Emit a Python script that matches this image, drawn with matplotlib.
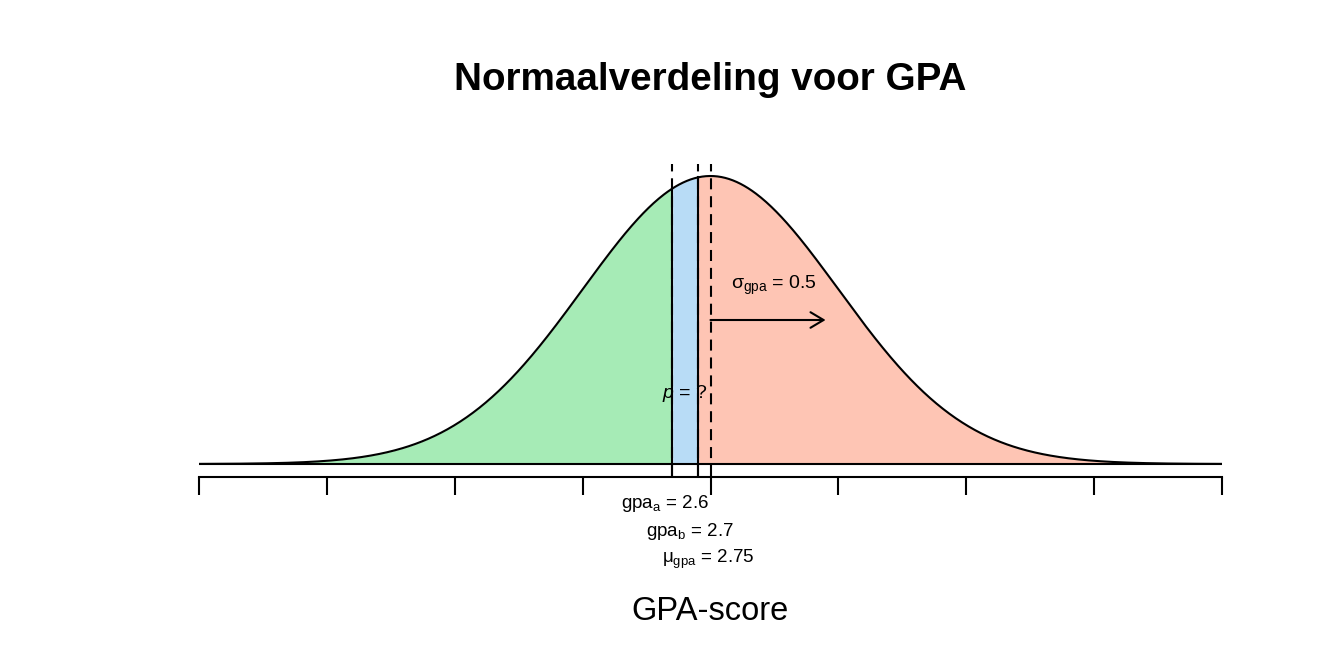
import numpy as np
import matplotlib
matplotlib.use("Agg")
import matplotlib.pyplot as plt

plt.rcParams["font.family"] = ["Liberation Sans", "DejaVu Sans"]
plt.rcParams["mathtext.fontset"] = "custom"
plt.rcParams["mathtext.rm"] = "Liberation Sans"
plt.rcParams["mathtext.it"] = "Liberation Sans:italic"
plt.rcParams["mathtext.bf"] = "Liberation Sans:bold"

# values
mu = 2.75
sigma = 0.5
gpa_a = 2.6
gpa_b = 2.7
tick_positions = [0.75, 1.25, 1.75, 2.25, 2.75, 3.25, 3.75, 4.25, 4.75]
title = "Normaalverdeling voor GPA"
xlabel = "GPA-score"

col_low = "#A6EBB6"
col_mid = "#B8DCF6"
col_high = "#FEC5B4"

x = np.linspace(tick_positions[0], tick_positions[-1], 800)
dens = np.exp(-0.5 * ((x - mu) / sigma) ** 2) / (sigma * np.sqrt(2 * np.pi))
peak = 1 / (sigma * np.sqrt(2 * np.pi))

fig = plt.figure(figsize=(13.44, 6.72), dpi=100)
ax = fig.add_axes([199 / 1344, 172 / 672, 1023 / 1344, 350 / 672])
px = 288 / peak  # pixels per density unit
ax.set_xlim(tick_positions[0], tick_positions[-1])
ax.set_ylim(-36 / px, 314 / px)

# shaded areas
ax.fill_between(x, 0, dens, where=x <= gpa_a, color=col_low, lw=0)
ax.fill_between(x, 0, dens, where=(x >= gpa_a) & (x <= gpa_b), color=col_mid, lw=0)
ax.fill_between(x, 0, dens, where=x >= gpa_b, color=col_high, lw=0)

ax.plot(x, dens, color="black", lw=1.5)
ax.plot([x[0], x[-1]], [0, 0], color="black", lw=1.5)

usr_bot = -0.04 * peak
usr_top = 1.04 * peak
for v in (gpa_a, gpa_b, mu):
    ax.plot([v, v], [usr_bot, usr_top], color="black", lw=1.5,
            dashes=(5.3, 3.3))
for v in (gpa_a, gpa_b):
    d = np.exp(-0.5 * ((v - mu) / sigma) ** 2) / (sigma * np.sqrt(2 * np.pi))
    ax.plot([v, v], [usr_bot, d], color="black", lw=1.5)

# arrow for sigma
ax.annotate("", xy=(mu + 0.9 * sigma, peak / 2), xytext=(mu, peak / 2),
            arrowprops=dict(arrowstyle="->,head_length=0.47,head_width=0.28",
                            lw=1.5, color="black", mutation_scale=20,
                            shrinkA=0, shrinkB=0))
ax.text(mu + sigma / 2, 0.485, r"σ$_{\mathrm{gpa}}$ = 0.5", ha="center",
        va="baseline", fontsize=14)
ax.text((gpa_a + gpa_b) / 2, 0.183, r"$\mathit{p}$ = ?", ha="center",
        va="baseline", fontsize=14)

# labels under the axis
lab_size = 13.5
ax.text(gpa_a - 0.03, -44 / px, r"gpa$_{\mathrm{a}}$ = 2.6", ha="center",
        va="baseline", fontsize=lab_size)
ax.text(gpa_b - 0.03, -72 / px, r"gpa$_{\mathrm{b}}$ = 2.7", ha="center",
        va="baseline", fontsize=lab_size)
ax.text(mu - 0.01, -99 / px, r"μ$_{\mathrm{gpa}}$ = 2.75", ha="center",
        va="baseline", fontsize=lab_size)

# axis
for s in ("top", "right", "left"):
    ax.spines[s].set_visible(False)
ax.spines["bottom"].set_position(("data", -13 / px))
ax.spines["bottom"].set_linewidth(1.5)
ax.set_xticks(tick_positions)
ax.set_xticklabels([])
ax.tick_params(axis="x", direction="out", length=13, width=1.5)
ax.set_yticks([])

fig.text(710 / 1344, 1 - 80 / 672, title, ha="center", va="center",
         fontsize=27.8, fontweight="bold")
fig.text(710 / 1344, 1 - 612 / 672, xlabel, ha="center", va="center",
         fontsize=23.5)

fig.savefig("out.png", dpi=100)
